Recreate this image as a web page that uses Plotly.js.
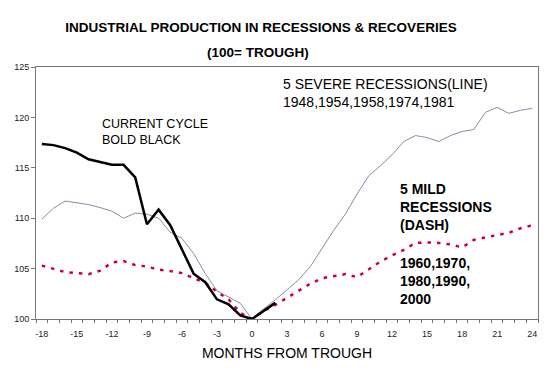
<!DOCTYPE html>
<html>
<head>
<meta charset="utf-8">
<script src="https://cdn.plot.ly/plotly-3.0.1.min.js"></script>
<style>html,body{margin:0;padding:0;background:#fff;}#chart{width:550px;height:376px;}</style>
</head>
<body>
<div id="chart"></div>
<script>
// Months from trough
const monthsAll = [-18,-17,-16,-15,-14,-13,-12,-11,-10,-9,-8,-7,-6,-5,-4,-3,-2,-1,0,1,2,3,4,5,6,7,8,9,10,11,12,13,14,15,16,17,18,19,20,21,22,23,24];
const monthsCurrent = [-18,-17,-16,-15,-14,-13,-12,-11,-10,-9,-8,-7,-6,-5,-4,-3,-2,-1,0,1,2];

// 5 severe recessions (line)
const severe = [109.9,111.0,111.7,111.5,111.35,111.05,110.7,110.0,110.5,110.4,110.0,108.6,108.0,106.5,104.5,102.8,102.2,101.55,100,
  101.0,101.9,102.9,103.9,105.2,107.0,108.8,110.4,112.4,114.2,115.2,116.3,117.6,118.2,118.0,117.6,118.2,118.6,118.8,120.5,121.0,120.4,120.7,120.9];

// 5 mild recessions (dash)
const mild = [105.3,105.0,104.65,104.55,104.45,104.8,105.6,105.75,105.35,105.2,104.9,104.75,104.55,104.05,103.6,102.7,101.95,100.6,100,
  100.8,101.4,102.1,102.8,103.5,104.05,104.25,104.45,104.15,104.9,105.7,106.3,106.85,107.55,107.6,107.55,107.4,107.1,107.85,108.1,108.3,108.55,109.0,109.3];

// Current cycle (bold black)
const current = [117.35,117.25,116.95,116.5,115.85,115.55,115.3,115.3,114.05,109.4,110.85,109.3,106.85,104.5,103.65,101.95,101.45,100.35,100,100.8,101.6];

const xTickVals = [-18,-15,-12,-9,-6,-3,0,3,6,9,12,15,18,21,24];
const xTickText = ['-18','-15','-12','-9','-6','-3','0','3','6','9','12','15','18','21','24'];
const yTickVals = [100,105,110,115,120,125];

const traces = [
  {x: monthsAll, y: mild, type: 'scatter', mode: 'lines', name: '5 mild recessions',
   line: {color: '#cc0033', width: 2.5, dash: '3.5px,6px'}},
  {x: monthsAll, y: severe, type: 'scatter', mode: 'lines', name: '5 severe recessions',
   line: {color: '#8a8aa8', width: 1}},
  {x: monthsCurrent, y: current, type: 'scatter', mode: 'lines', name: 'Current cycle',
   line: {color: '#000000', width: 2.5}}
];

const F = 'Arial, "Liberation Sans", sans-serif';

const layout = {
  width: 550, height: 376,
  margin: {l: 36, r: 12, t: 67, b: 57},
  paper_bgcolor: '#ffffff', plot_bgcolor: '#ffffff',
  showlegend: false,
  font: {family: F, color: '#000'},
  title: {text: '<b>INDUSTRIAL PRODUCTION IN RECESSIONS & RECOVERIES</b>',
          font: {family: F, size: 13.5, color: '#000'},
          x: 261/550, xanchor: 'center', y: 1 - 27/376, yanchor: 'middle'},
  xaxis: {
    range: [-18.5, 24.5], tickmode: 'array', tickvals: xTickVals, ticktext: xTickText,
    ticks: '', tickfont: {family: F, size: 9, color: '#222'}, ticklabelstandoff: 6,
    showline: true, linecolor: '#777', linewidth: 1, mirror: true,
    showgrid: false, zeroline: false,
    minor: {tick0: -18.5, dtick: 1, ticks: 'outside', ticklen: 3, tickcolor: '#777', showgrid: false},
    title: {text: 'MONTHS FROM TROUGH', font: {family: F, size: 14, color: '#000'}, standoff: 10}
  },
  yaxis: {
    range: [100, 125], tickmode: 'array', tickvals: yTickVals,
    ticks: 'outside', ticklen: 4, tickcolor: '#777',
    tickfont: {family: F, size: 9, color: '#222'},
    showline: true, linecolor: '#777', linewidth: 1, mirror: true,
    showgrid: false, zeroline: false
  },
  annotations: [
    {text: '<b>(100= TROUGH)</b>', xref: 'paper', yref: 'paper', x: (258-36)/502, y: (319-52)/252,
     xanchor: 'center', yanchor: 'middle', showarrow: false, font: {family: F, size: 13.5, color: '#000'}},
    {text: 'CURRENT CYCLE<br>BOLD BLACK', xref: 'paper', yref: 'paper', x: (100-36)/502, y: (319-132)/252,
     xanchor: 'left', yanchor: 'middle', align: 'left', showarrow: false, font: {family: F, size: 12.5, color: '#000'}},
    {text: '5 SEVERE RECESSIONS(LINE)<br>1948,1954,1958,1974,1981', xref: 'paper', yref: 'paper', x: (281-36)/502, y: (319-92.5)/252,
     xanchor: 'left', yanchor: 'middle', align: 'left', showarrow: false, font: {family: F, size: 14, color: '#000'}},
    {text: '<b>5 MILD<br>RECESSIONS<br>(DASH)</b>', xref: 'paper', yref: 'paper', x: (398-36)/502, y: (319-207)/252,
     xanchor: 'left', yanchor: 'middle', align: 'left', showarrow: false, font: {family: F, size: 14, color: '#000'}},
    {text: '<b>1960,1970,<br>1980,1990,<br>2000</b>', xref: 'paper', yref: 'paper', x: (398-36)/502, y: (319-281)/252,
     xanchor: 'left', yanchor: 'middle', align: 'left', showarrow: false, font: {family: F, size: 14, color: '#000'}}
  ]
};

Plotly.newPlot('chart', traces, layout, {staticPlot: true, displayModeBar: false});
</script>
</body>
</html>
